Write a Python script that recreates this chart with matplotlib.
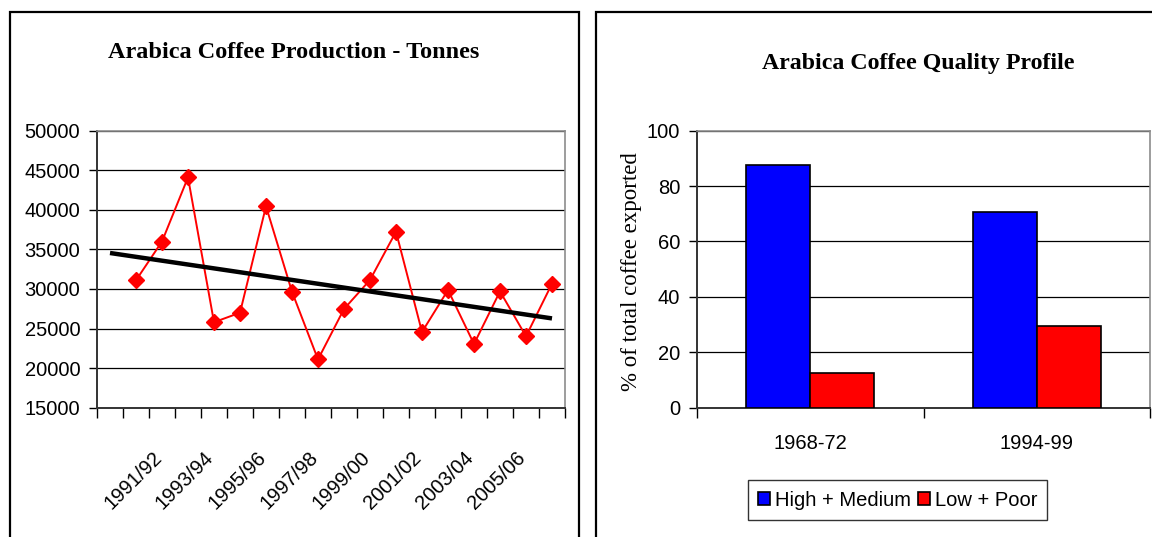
import matplotlib
matplotlib.use('Agg')
import matplotlib.pyplot as plt
import numpy as np
from matplotlib.patches import Rectangle
from matplotlib.transforms import ScaledTranslation

# ---------------- data ----------------
categories = ['', '1990/91', '1991/92', '1992/93', '1993/94', '1994/95', '1995/96',
              '1996/97', '1997/98', '1998/99', '1999/00', '2000/01', '2001/02',
              '2002/03', '2003/04', '2004/05', '2005/06', '2006/07']
production = [31100, 36000, 44100, 25800, 27000, 40450, 29650, 21100, 27470,
              31140, 37240, 24570, 29870, 23050, 29700, 24020, 30670]
y_ticks_prod = [15000, 20000, 25000, 30000, 35000, 40000, 45000, 50000]

periods = ['1968-72', '1994-99']
high_medium = [87.5, 70.5]
low_poor = [12.5, 29.5]
y_ticks_pct = [0, 20, 40, 60, 80, 100]

SANS = 'Liberation Sans'
SERIF = 'Liberation Serif'

W, H = 1152, 537
fig = plt.figure(figsize=(W / 100, H / 100), dpi=100)


def fx(px):
    return px / W


def fy(py):
    return 1 - py / H


# panel borders
fig.add_artist(Rectangle((fx(10), -0.1), fx(579) - fx(10), fy(12) + 0.1,
                         transform=fig.transFigure, fill=False, lw=1.6, ec='black'))
fig.add_artist(Rectangle((fx(596), -0.1), fx(1260) - fx(596), fy(12) + 0.1,
                         transform=fig.transFigure, fill=False, lw=1.6, ec='black'))

# ---------------- left chart ----------------
ax1 = fig.add_axes([fx(97), fy(407.7), fx(565) - fx(97), fy(130.7) - fy(407.7)])
n = len(categories)
x_all = np.arange(n)
x_data = x_all[1:]
ax1.plot(x_data, production, color='#ff0000', lw=1.4, marker='D', ms=8.5,
         mfc='#ff0000', mec='#ff0000', zorder=3)
coef = np.polyfit(x_data, production, 1)
trend_x = np.array([x_all[0], x_all[-1]])
ax1.plot(trend_x, np.polyval(coef, trend_x), color='black', lw=3.2,
         solid_capstyle='butt', zorder=4)

ax1.set_xlim(-0.5, n - 0.5)
ax1.set_ylim(15000, 50000)
ax1.set_yticks(y_ticks_prod)
ax1.set_yticklabels([str(v) for v in y_ticks_prod], fontfamily=SANS, fontsize=14.5)
ax1.yaxis.grid(True, color='black', lw=0.9)
ax1.set_axisbelow(True)
ax1.tick_params(axis='y', length=6, width=1, pad=6, direction='out')

ax1.set_xticks(x_all[::2])
ax1.set_xticklabels(categories[::2], fontfamily=SANS, fontsize=14.5,
                    rotation=45, ha='right', va='top', rotation_mode='anchor')
ax1.tick_params(axis='x', which='major', length=0, pad=29)
shift = ScaledTranslation(-10 / 100, 0, fig.dpi_scale_trans)
for lab in ax1.get_xticklabels():
    lab.set_transform(lab.get_transform() + shift)
ax1.set_xticks(np.arange(-0.5, n, 1), minor=True)
ax1.tick_params(axis='x', which='minor', length=7, width=1, direction='out')
for s in ['top', 'right']:
    ax1.spines[s].set_color('#8c8c8c')
    ax1.spines[s].set_linewidth(1.2)
for s in ['left', 'bottom']:
    ax1.spines[s].set_color('#333333')
    ax1.spines[s].set_linewidth(1.4)

fig.text(fx(294), fy(52), 'Arabica Coffee Production - Tonnes', ha='center', va='center',
         fontfamily=SERIF, fontweight='bold', fontsize=17.5)

# ---------------- right chart ----------------
ax2 = fig.add_axes([fx(697), fy(407.7), fx(1150) - fx(697), fy(130.7) - fy(407.7)])
xp = np.arange(len(periods))
bw = 0.283
ax2.bar(xp - bw / 2, high_medium, width=bw, color='#0000ff', edgecolor='black',
        lw=1.2, label='High + Medium', zorder=3)
ax2.bar(xp + bw / 2, low_poor, width=bw, color='#ff0000', edgecolor='black',
        lw=1.2, label='Low + Poor', zorder=3)
ax2.set_xlim(-0.5, len(periods) - 0.5)
ax2.set_ylim(0, 100)
ax2.set_yticks(y_ticks_pct)
ax2.set_yticklabels([str(v) for v in y_ticks_pct], fontfamily=SANS, fontsize=14.5)
ax2.yaxis.grid(True, color='black', lw=0.9)
ax2.set_axisbelow(True)
ax2.tick_params(axis='y', length=6, width=1, pad=6, direction='out')
ax2.set_xticks(xp)
ax2.set_xticklabels(periods, fontfamily=SANS, fontsize=14.5)
ax2.tick_params(axis='x', which='major', length=0, pad=19)
ax2.set_xticks(np.arange(-0.5, len(periods), 1), minor=True)
ax2.tick_params(axis='x', which='minor', length=7, width=1, direction='out')
for s in ['top', 'right']:
    ax2.spines[s].set_color('#8c8c8c')
    ax2.spines[s].set_linewidth(1.2)
for s in ['left', 'bottom']:
    ax2.spines[s].set_color('#333333')
    ax2.spines[s].set_linewidth(1.4)

fig.text(fx(631), fy(272), '% of total coffee exported', rotation=90, ha='center',
         va='center', fontfamily=SERIF, fontsize=16.5)
fig.text(fx(918), fy(64), 'Arabica Coffee Quality Profile', ha='center', va='center',
         fontfamily=SERIF, fontweight='bold', fontsize=17.2)

leg = ax2.legend(loc='center', bbox_to_anchor=(fx(897.5), fy(500)),
                 bbox_transform=fig.transFigure, ncol=2, frameon=True, fancybox=False,
                 edgecolor='black', prop={'family': SANS, 'size': 14.5},
                 handlelength=0.6, handleheight=0.6, handletextpad=0.25,
                 columnspacing=0.35, borderpad=0.5, borderaxespad=0)
leg.get_frame().set_linewidth(1.0)

fig.savefig('out.png', dpi=100)
